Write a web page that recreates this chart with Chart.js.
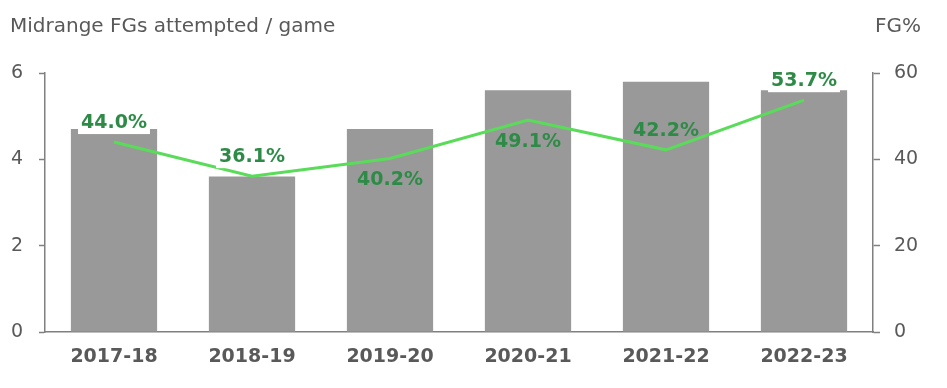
<!DOCTYPE html>
<html>
<head>
<meta charset="utf-8">
<script src="https://cdn.jsdelivr.net/npm/chart.js@4/dist/chart.umd.min.js"></script>
<style>
html,body{margin:0;padding:0;background:#fff;}
#wrap{position:relative;width:947px;height:388px;}
</style>
</head>
<body>
<div id="wrap"><canvas id="c" width="947" height="388"></canvas></div>
<script>
const seasons = ["2017-18","2018-19","2019-20","2020-21","2021-22","2022-23"];
const fgaPerGame = [4.7, 3.6, 4.7, 5.6, 5.8, 5.6];
const fgPct = [44.0, 36.1, 40.2, 49.1, 42.2, 53.7];
const pctLabels = ["44.0%","36.1%","40.2%","49.1%","42.2%","53.7%"];
const labelAbove = [true, true, false, false, true, true];
const labelBoxed = [true, true, false, false, false, true];
const leftTicks = [0, 2, 4, 6];
const rightTicks = [0, 20, 40, 60];

const FONT = "'DejaVu Sans', sans-serif";
const AXIS = "#808080";
const TXT = "#595959";

const labelPlugin = {
  id: 'pctLabels',
  afterDatasetsDraw(chart) {
    const ctx = chart.ctx;
    const meta = chart.getDatasetMeta(1);
    ctx.save();
    ctx.font = "bold 19px " + FONT;
    ctx.textAlign = "center";
    ctx.textBaseline = "middle";
    meta.data.forEach((pt, i) => {
      const y = labelAbove[i] ? pt.y - 20 : pt.y + 21;
      const t = pctLabels[i];
      const w = ctx.measureText(t).width;
      if (labelBoxed[i]) {
        ctx.fillStyle = "#ffffff";
        ctx.fillRect(pt.x - w/2 - 3, y - 12, w + 6, 24);
      }
      ctx.fillStyle = "#2e8b47";
      ctx.fillText(t, pt.x, y + 1);
    });
    ctx.restore();
  },
  afterDraw(chart) {
    const ctx = chart.ctx;
    ctx.save();
    ctx.font = "20px " + FONT;
    ctx.fillStyle = TXT;
    ctx.textBaseline = "middle";
    ctx.textAlign = "left";
    ctx.fillText("Midrange FGs attempted / game", 10, 27);
    ctx.textAlign = "right";
    ctx.fillText("FG%", 921, 27);
    ctx.restore();
  }
};

new Chart(document.getElementById('c'), {
  data: {
    labels: seasons,
    datasets: [
      {
        type: 'bar',
        data: fgaPerGame,
        backgroundColor: '#999999',
        yAxisID: 'y',
        categoryPercentage: 1.0,
        barPercentage: 0.625,
        order: 2
      },
      {
        type: 'line',
        data: fgPct,
        borderColor: '#5adb5a',
        borderWidth: 3,
        pointRadius: 0,
        tension: 0,
        yAxisID: 'y1',
        order: 1
      }
    ]
  },
  options: {
    responsive: false,
    animation: false,
    layout: { padding: { top: 73, left: 0, right: 0, bottom: 0 } },
    plugins: { legend: { display: false }, tooltip: { enabled: false } },
    scales: {
      x: {
        grid: { display: false, drawTicks: false },
        border: { display: true, color: AXIS, width: 1.5 },
        ticks: { color: TXT, font: { family: FONT, size: 19, weight: 'bold' }, padding: 14 },
        afterFit(s) { s.height = 56; }
      },
      y: {
        position: 'left',
        min: 0, max: 6,
        afterBuildTicks(s) { s.ticks = leftTicks.map(v => ({ value: v })); },
        grid: { drawOnChartArea: false, drawTicks: true, tickLength: 6, color: AXIS, tickWidth: 1.5 },
        border: { display: true, color: AXIS, width: 1.5 },
        ticks: { color: TXT, font: { family: FONT, size: 19 }, padding: 16 },
        afterFit(s) { s.width = 45; }
      },
      y1: {
        position: 'right',
        min: 0, max: 60,
        afterBuildTicks(s) { s.ticks = rightTicks.map(v => ({ value: v })); },
        grid: { drawOnChartArea: false, drawTicks: true, tickLength: 7, color: AXIS, tickWidth: 1.5 },
        border: { display: true, color: AXIS, width: 1.5 },
        ticks: { color: TXT, font: { family: FONT, size: 19 }, padding: 14 },
        afterFit(s) { s.width = 74; }
      }
    }
  },
  plugins: [labelPlugin]
});
</script>
</body>
</html>
